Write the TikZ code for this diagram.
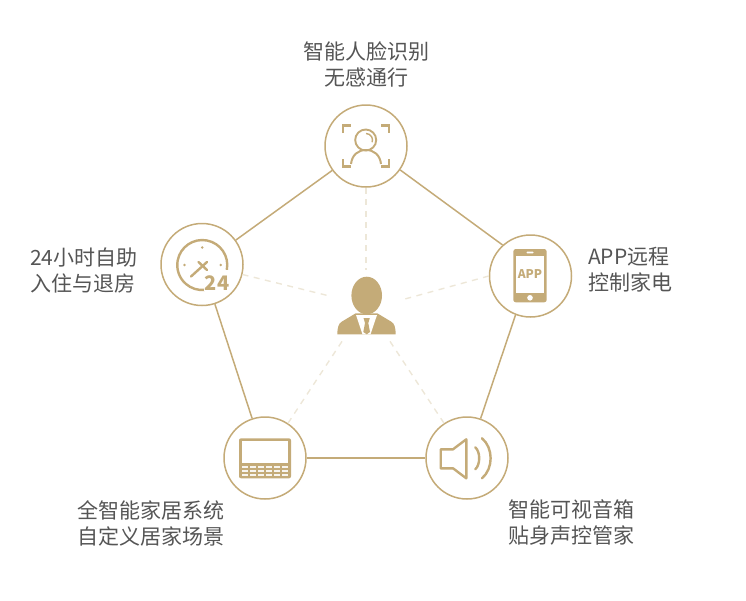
\documentclass[tikz,border=0pt]{standalone}
\usepackage{fontspec}
\setmainfont{Noto Sans CJK SC}
\definecolor{gold}{HTML}{C4AB78}
\definecolor{paledash}{HTML}{EDE7D8}
\definecolor{labelgray}{HTML}{555555}
\tikzset{
	hub/.style={draw=gold,circle,line width=1.5pt,minimum size=82pt,inner sep=0pt},
	link/.style={draw=gold,line width=1.5pt},
	spoke/.style={draw=paledash,line width=1.4pt,dash pattern=on 6pt off 5.5pt},
	label/.style={text=labelgray,inner sep=0pt,font=\fontsize{21}{26}\selectfont},
	icon/.style={draw=gold,line width=2.4pt},
}
\begin{document}
\begin{tikzpicture}[x=1pt,y=-1pt]
	\useasboundingbox (0,0) rectangle (746,600);
	\node[hub] (face) at (366,146) {};
	\node[hub] (clock) at (202,264.5) {};
	\node[hub] (phone) at (530.5,276) {};
	\node[hub] (screen) at (265,458) {};
	\node[hub] (speaker) at (467,458) {};
	\node[circle,minimum size=70pt,inner sep=0pt] (user) at (366,305) {};

	\path[link] (face.-35) -- (phone.132);
	\path[link] (phone.249) -- (speaker.71);
	\path[link] (speaker) -- (screen);
	\path[link] (screen) -- (clock);
	\path[link] (clock) -- (face);

	\path[spoke] (face) -- (user);
	\path[spoke] (clock) -- (user);
	\path[spoke] (phone.west) -- (user.8);
	\path[spoke,shorten >=3pt] (screen) -- (user);
	\path[spoke,shorten >=3pt] (speaker) -- (user);

	\node[label,align=center] (facetext) at (366,64) {智能人脸识别\\无感通行};
	\node[label,align=left,anchor=west] (clocktext) at (30,270) {24小时自助\\入住与退房};
	\node[label,align=left,anchor=west] (phonetext) at (588,270) {APP远程\\控制家电};
	\node[label,align=left,anchor=west] (screentext) at (77.5,523) {全智能家居系统\\自定义居家场景};
	\node[label,align=left,anchor=west] (speakertext) at (508,523) {智能可视音箱\\贴身声控管家};

	% face icon
	\draw[icon] (342.7,133) -- (342.7,125.5) -- (351,125.5);
	\draw[icon] (381,125.5) -- (389,125.5) -- (389,133);
	\draw[icon] (342.7,159) -- (342.7,166.5) -- (351,166.5);
	\draw[icon] (381,166.5) -- (389,166.5) -- (389,159);
	\draw[icon,line width=1.9pt] (365.7,140) circle (10.5);
	\draw[icon,line width=1.4pt] (366,133.5) arc (-90:20:6.5);
	\draw[icon,line width=2pt] (351,164) .. controls (352,155) and (358,150) .. (366,150) .. controls (374,150) and (380,155) .. (381,164);

	% clock icon
	\draw[icon] (226.8,269.8) arc (11:-276:25);
	\fill[gold] (202.3,247.5) circle (1.4);
	\fill[gold] (184.5,265) circle (1.4);
	\fill[gold] (220.7,265) circle (1.4);
	\draw[icon,line cap=round] (191,276.5) -- (207,262);
	\draw[icon,line cap=round] (198.5,262) -- (207,270);
	\node[fill=white,inner sep=1pt,text=gold,font=\fontsize{20}{20}\selectfont\bfseries] (clockhours) at (217,283) {24};

	% phone icon
	\fill[gold,rounded corners=2.5pt] (513.3,249) rectangle (546.7,302.3);
	\fill[white] (516,255.7) rectangle (544,293.3);
	\fill[white,rounded corners=0.7pt] (526.5,251.6) rectangle (533.5,253.4);
	\fill[white] (530,297.8) circle (2.8);
	\node[text=gold,inner sep=0pt,font=\fontsize{12}{12}\selectfont\bfseries] (phoneapp) at (530,274) {APP};

	% screen icon
	\fill[gold,rounded corners=2pt] (239,438.3) rectangle (291,478.3);
	\fill[white] (241.7,441) rectangle (288.3,463.3);
	\foreach \col in {0,...,5} {
		\foreach \row in {0,1,2} {
			\fill[gold!12] (241.9+\col*8,466+\row*4) rectangle ++(6.2,2.4);
		}
	}

	% speaker icon
	\draw[icon,line join=round] (440.7,449.3) -- (453,449.3) -- (466.3,439.3) -- (466.3,478.3) -- (453,468.3) -- (440.7,468.3) -- cycle;
	\draw[icon,line cap=round] (475.3,447.3) .. controls (480.5,452) and (480.5,464.5) .. (475.3,469.3);
	\draw[icon,line cap=round] (482,438.3) .. controls (493.5,448) and (493.5,468.5) .. (482,478.3);

	% person icon
	\fill[gold] (337.3,334.3) .. controls (337.5,327) and (338.5,323.5) .. (342,321.5) -- (355.7,313.3) -- (377.3,313.3) -- (391,321.5) .. controls (394.5,323.5) and (395.5,327) .. (395.7,334.3) -- cycle;
	\fill[white] (356,315) -- (377,315) -- (370.5,334.3) -- (362.5,334.3) -- cycle;
	\fill[gold] (366.7,295.5) ellipse (15.3 and 18.8);
	\fill[gold] (363.5,318) -- (369.8,318) -- (368.3,323) -- (370,332) -- (366.7,334.3) -- (363.3,332) -- (365,323) -- cycle;
\end{tikzpicture}
\end{document}
